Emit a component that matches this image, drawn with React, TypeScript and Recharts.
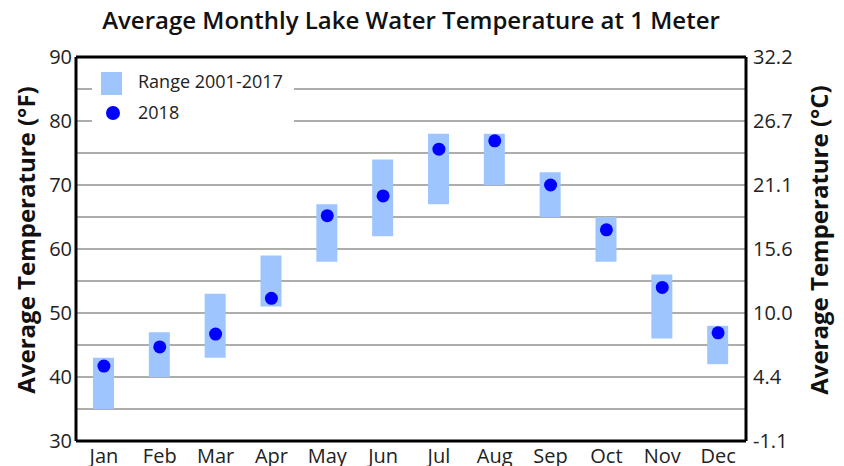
import {
  ComposedChart,
  Bar,
  Line,
  XAxis,
  YAxis,
  CartesianGrid,
  ReferenceLine,
} from "recharts";

const MONTHS = ["Jan", "Feb", "Mar", "Apr", "May", "Jun", "Jul", "Aug", "Sep", "Oct", "Nov", "Dec"];
const RANGE_LOW = [35, 40, 43, 51, 58, 62, 67, 70, 65, 58, 46, 42];
const RANGE_HIGH = [43, 47, 53, 59, 67, 74, 78, 78, 72, 65, 56, 48];
const TEMP_2018 = [41.7, 44.7, 46.7, 52.3, 65.2, 68.3, 75.6, 76.9, 70, 63, 54, 46.9];

const GRID_TICKS = [30, 35, 40, 45, 50, 55, 60, 65, 70, 75, 80, 85, 90];
const F_LABELS = ["30", "40", "50", "60", "70", "80", "90"];
const C_LABELS = ["-1.1", "4.4", "10.0", "15.6", "21.1", "26.7", "32.2"];

const FONT = "'Open Sans', sans-serif";
const RANGE_COLOR = "#9ec5fe";
const DOT_COLOR = "#0000ff";

const data = MONTHS.map((m, i) => ({
  month: m,
  range: [RANGE_LOW[i], RANGE_HIGH[i]],
  y2018: TEMP_2018[i],
}));

// labels only at every 10 degF, grid lines every 5
const fLabel = (v: number) => (v % 10 === 0 ? F_LABELS[(v - 30) / 10] : "");
const cLabel = (v: number) => (v % 10 === 0 ? C_LABELS[(v - 30) / 10] : "");

// eslint-disable-next-line @typescript-eslint/no-explicit-any
function AxisTitle({ viewBox, value, dx }: any) {
  const cx = viewBox.x + dx;
  const cy = viewBox.y + viewBox.height / 2 - 9;
  return (
    <text
      x={cx}
      y={cy}
      transform={`rotate(-90 ${cx} ${cy})`}
      textAnchor="middle"
      dominantBaseline="central"
      fontFamily={FONT}
      fontWeight={700}
      fontSize={24}
      fill="#111"
    >
      {value}
    </text>
  );
}

export default function App() {
  return (
    <div style={{ position: "absolute", left: 0, top: 0, width: 844, height: 466, background: "#fff", fontFamily: FONT }}>
      <div
        style={{
          position: "absolute",
          left: 76,
          width: 670,
          top: 8,
          textAlign: "center",
          fontSize: 24,
          fontWeight: 600,
          color: "#111",
          lineHeight: "24px",
          whiteSpace: "nowrap",
        }}
      >
        Average Monthly Lake Water Temperature at 1 Meter
      </div>
      <ComposedChart
        width={844}
        height={466}
        data={data}
        margin={{ top: 57, right: 0, left: 0, bottom: 0 }}
        barCategoryGap="30%"
      >
        <CartesianGrid yAxisId="f" vertical={false} stroke="#adadad" strokeWidth={2} />
        <XAxis
          dataKey="month"
          height={25}
          tick={{ fontSize: 20, fill: "#222", fontFamily: FONT }}
          tickLine={false}
          axisLine={{ stroke: "#000", strokeWidth: 3 }}
          interval={0}
        />
        <YAxis
          yAxisId="f"
          orientation="left"
          width={76}
          domain={[30, 90]}
          ticks={GRID_TICKS}
          tickFormatter={fLabel}
          tick={{ fontSize: 20, fill: "#222", fontFamily: FONT }}
          tickLine={false}
          tickSize={4}
          tickMargin={0}
          axisLine={{ stroke: "#000", strokeWidth: 3 }}
          label={<AxisTitle value="Average Temperature (°F)" dx={25} />}
        />
        <YAxis
          yAxisId="c"
          orientation="right"
          width={98}
          domain={[30, 90]}
          ticks={GRID_TICKS}
          tickFormatter={cLabel}
          tick={{ fontSize: 20, fill: "#222", fontFamily: FONT }}
          tickLine={false}
          tickSize={5}
          tickMargin={2}
          axisLine={{ stroke: "#000", strokeWidth: 3 }}
          label={<AxisTitle value="Average Temperature (°C)" dx={72} />}
        />
        <ReferenceLine yAxisId="f" y={90} stroke="#000" strokeWidth={3} />
        <Bar yAxisId="f" dataKey="range" barSize={21} fill={RANGE_COLOR} isAnimationActive={false} />
        <Line
          yAxisId="f"
          dataKey="y2018"
          stroke="none"
          dot={{ r: 6.5, fill: DOT_COLOR, stroke: "none" }}
          activeDot={false}
          isAnimationActive={false}
        />
        {/* invisible twin so the right-hand axis gets its ticks */}
        <Line
          yAxisId="c"
          dataKey="y2018"
          stroke="none"
          dot={false}
          activeDot={false}
          legendType="none"
          isAnimationActive={false}
        />
      </ComposedChart>
      <div
        style={{
          position: "absolute",
          left: 92,
          top: 60,
          width: 202,
          height: 68,
          background: "#fff",
          fontSize: 18,
          color: "#222",
        }}
      >
        <div style={{ position: "absolute", left: 9, top: 12, width: 21, height: 23, background: RANGE_COLOR }} />
        <div style={{ position: "absolute", left: 46, top: 9, lineHeight: "25px" }}>Range 2001-2017</div>
        <div style={{ position: "absolute", left: 14, top: 46, width: 14, height: 14, borderRadius: 7, background: DOT_COLOR }} />
        <div style={{ position: "absolute", left: 46, top: 40, lineHeight: "25px" }}>2018</div>
      </div>
    </div>
  );
}
